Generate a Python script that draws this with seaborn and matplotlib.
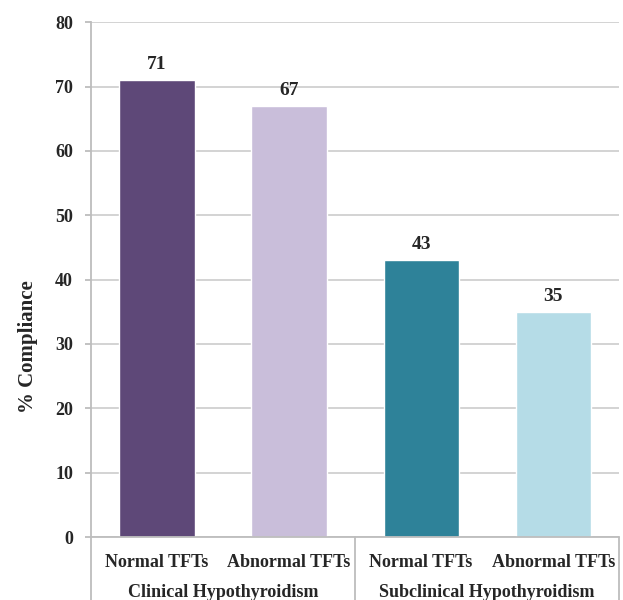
import matplotlib
matplotlib.use("Agg")
import matplotlib.pyplot as plt
from matplotlib.transforms import blended_transform_factory
import seaborn as sns
import pandas as pd

categories = ["Normal TFTs", "Abnormal TFTs", "Normal TFTs ", "Abnormal TFTs "]
tick_labels = ["Normal TFTs", "Abnormal TFTs", "Normal TFTs", "Abnormal TFTs"]
groups = ["Clinical Hypothyroidism", "Subclinical Hypothyroidism"]
compliance = [71, 67, 43, 35]
colors = ["#5E4878", "#C9BEDA", "#2E8299", "#B5DCE7"]

sns.set_style("white")
plt.rcParams["font.family"] = ["Liberation Serif", "DejaVu Serif"]
plt.rcParams["font.weight"] = "bold"

df = pd.DataFrame({"cat": categories, "val": compliance})

fig = plt.figure(figsize=(6.23, 6.0), dpi=100)
ax = fig.add_axes([0.146, 0.105, 0.848, 0.858])

sns.barplot(data=df, x="cat", y="val", hue="cat", palette=colors,
            width=0.57, legend=False, ax=ax, saturation=1)

ax.set_xlim(-0.5, 3.5)
ax.set_ylim(0, 80)
ax.set_yticks(range(0, 81, 10))
ax.yaxis.grid(True, color="#D0D0D0", linewidth=1.3)
ax.set_axisbelow(True)
for s in ["top", "right", "bottom"]:
    ax.spines[s].set_visible(False)
ax.spines["left"].set_color("#BDBDBD")
ax.spines["left"].set_linewidth(1.3)
ax.tick_params(axis="y", left=True, length=4, width=1.3, color="#BDBDBD",
               labelsize=13, pad=9)
for t in ax.get_yticklabels():
    t.set_fontweight("bold")

ax.set_xticks(range(4))
ax.set_xticklabels(tick_labels, fontsize=13, fontweight="bold")
ax.tick_params(axis="x", bottom=False, pad=9)
ax.set_xlabel("")
ax.set_ylabel("% Compliance", fontsize=15, fontweight="bold")
ax.yaxis.set_label_coords(-0.1, 0.37)

# value labels above bars
for i, v in enumerate(compliance):
    ax.text(i, v + 1.1, str(v), ha="center", va="bottom",
            fontsize=14, fontweight="bold")

# grouping table below the axis
trans = blended_transform_factory(ax.transData, ax.transAxes)
ax.plot([-0.5, 3.5], [0, 0], transform=trans, color="#BDBDBD", lw=1.3, clip_on=False)
for xv in [-0.5, 1.5, 3.5]:
    ax.plot([xv, xv], [0, -0.2], transform=trans, color="#BDBDBD", lw=1.3, clip_on=False)
for gi, g in enumerate(groups):
    ax.text(0.5 + 2 * gi, -0.107, g, transform=trans, ha="center", va="center",
            fontsize=13, fontweight="bold")

fig.savefig("out.png", dpi=100)
